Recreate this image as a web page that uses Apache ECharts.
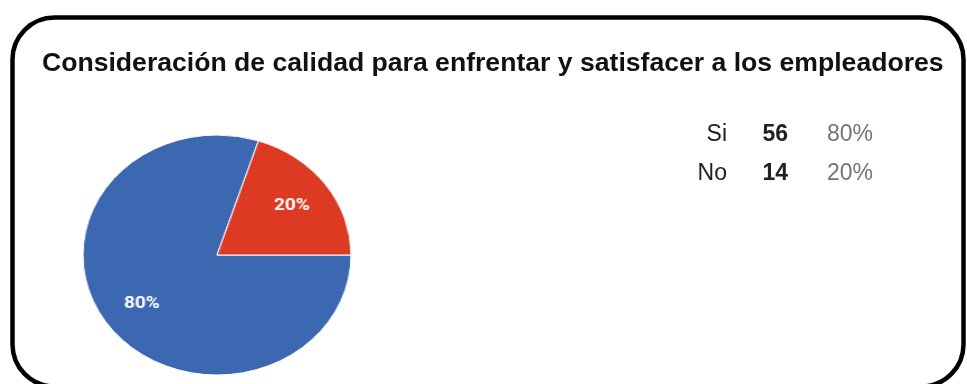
<!DOCTYPE html>
<html>
<head>
<meta charset="utf-8">
<script src="https://cdn.jsdelivr.net/npm/echarts@6/dist/echarts.min.js"></script>
<style>
  html, body { margin: 0; padding: 0; background: #fff; }
  #wrap { position: relative; width: 967px; height: 384px; overflow: hidden; }
  #main { position: absolute; left: 0; top: 0; width: 967px; height: 384px; }
  #pie { position: absolute; left: 57px; top: 105px; width: 320px; height: 300px;
         transform: scaleX(1.117); transform-origin: 50% 50%; }
</style>
</head>
<body>
<div id="wrap">
  <div id="main"></div>
  <div id="pie"></div>
</div>
<script>
const titleText = 'Consideración de calidad para enfrentar y satisfacer a los empleadores';
const categories = ['Si', 'No'];
const counts = [56, 14];
const percents = ['80%', '20%'];
const colors = ['#3c67b1', '#dc3a23'];

const tableText = categories.map((c, i) =>
  '{n|' + c + '}{v|' + counts[i] + '}{p|' + percents[i] + '}').join('\n');

const main = echarts.init(document.getElementById('main'), null, { renderer: 'canvas' });
main.setOption({
  animation: false,
  backgroundColor: '#fff',
  title: [
    {
      text: titleText,
      left: 37,
      top: 45,
      textStyle: { fontFamily: 'Liberation Sans, Arial, sans-serif', fontSize: 26.6, fontWeight: 'bold', color: '#111' }
    },
    {
      text: tableText,
      left: 675,
      top: 110,
      textStyle: {
        fontFamily: 'Liberation Sans, Arial, sans-serif',
        fontWeight: 'normal',
        rich: {
          n: { width: 47, align: 'right', fontSize: 23, lineHeight: 39, fontWeight: 'normal', color: '#212121' },
          v: { width: 61, align: 'right', fontSize: 23, lineHeight: 39, fontWeight: 'bold', color: '#212121' },
          p: { width: 85, align: 'right', fontSize: 23, lineHeight: 39, fontWeight: 'normal', color: '#757575' }
        }
      }
    }
  ],
  graphic: [{
    type: 'rect',
    shape: { x: 12.5, y: 17.5, width: 951, height: 369, r: 42 },
    style: { fill: 'none', stroke: '#000', lineWidth: 4.5 },
    silent: true
  }]
});

const pie = echarts.init(document.getElementById('pie'), null, { renderer: 'canvas' });
const pieData = categories.map((c, i) => ({ name: c, value: counts[i] }));
pie.setOption({
  animation: false,
  color: colors,
  series: [
    {
      type: 'pie',
      center: ['50%', '50%'],
      radius: [0, 120],
      startAngle: 0,
      clockwise: true,
      silent: true,
      data: pieData,
      itemStyle: { borderColor: '#fff', borderWidth: 1 },
      label: { show: false },
      labelLine: { show: false }
    },
    {
      type: 'pie',
      center: ['50%', '50%'],
      radius: [40, 120],
      startAngle: 0,
      clockwise: true,
      silent: true,
      data: pieData,
      itemStyle: { color: 'transparent' },
      label: {
        show: true,
        position: 'inside',
        formatter: p => percents[p.dataIndex],
        color: '#fff',
        fontSize: 17,
        fontWeight: 'bold',
        fontFamily: 'Roboto, Liberation Sans, sans-serif',
        textBorderWidth: 0
      },
      labelLine: { show: false }
    }
  ]
});
</script>
</body>
</html>
